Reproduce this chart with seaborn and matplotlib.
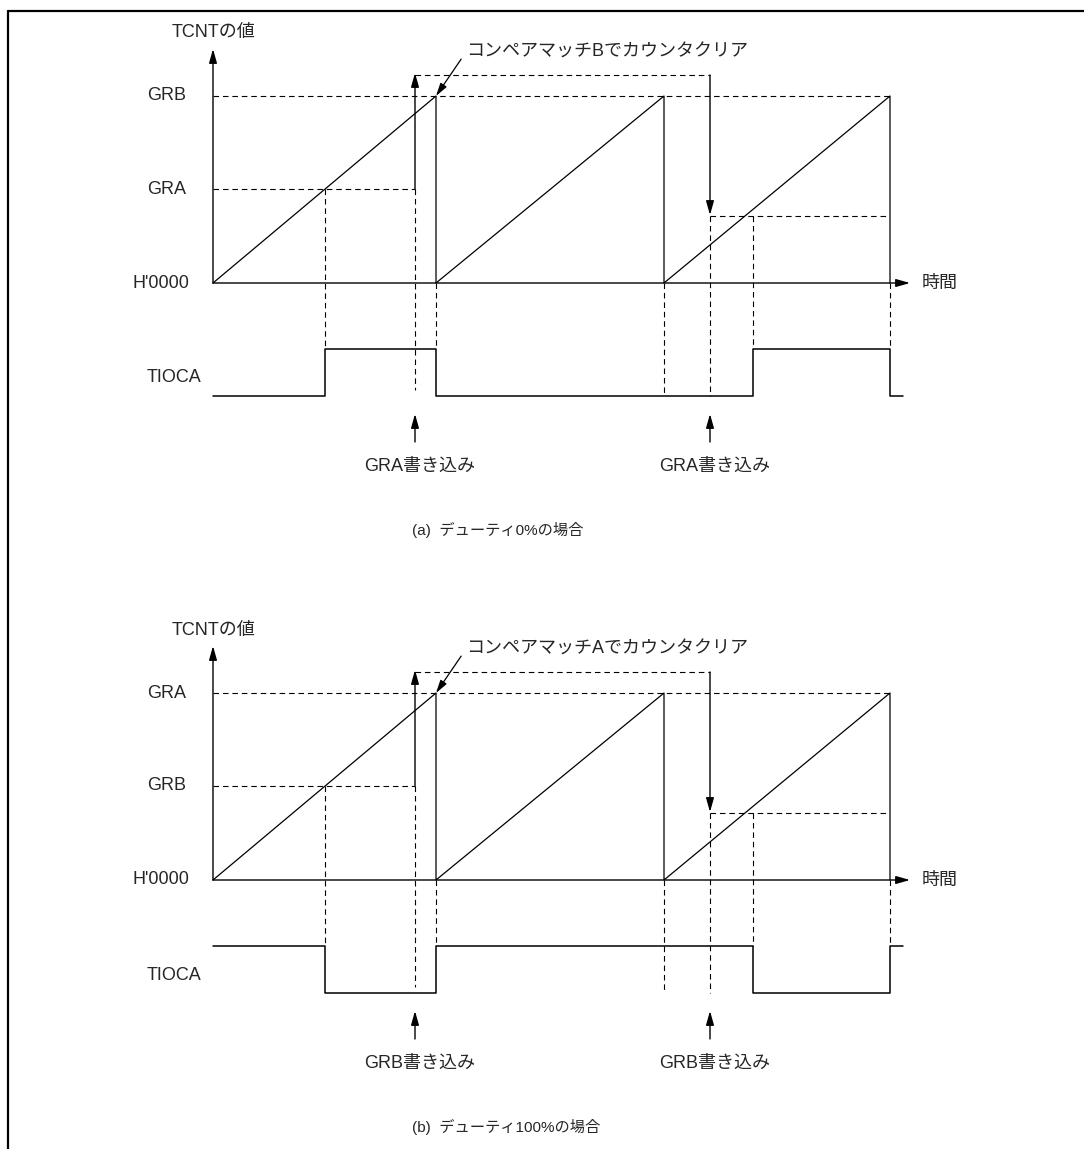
import matplotlib
matplotlib.use("Agg")
import matplotlib.pyplot as plt
from matplotlib.lines import Line2D
import numpy as np
import pandas as pd
import seaborn as sns

# ---------------- data (time / counter units) ----------------
clear_t = [0, 223, 451, 677]          # counter clear instants (ramp boundaries)
write_t = [202, 497]                  # register write instants
match_t = [112, 540]                  # duty-register compare matches
reg_top = 187                         # cycle register level
reg_old = 94                          # duty register before write
reg_new = 67                          # duty register after write
reg_pending = 208                     # level of pending-write path
tioca_hi = -66
tioca_lo = -113
tioca_end = 690
axis_x_end = 697
axis_y_end = 234

guide_x = [112, 202, 223, 451, 497, 540, 677]
guide_top = [94, 94, 0, 0, 67, 67, 0]
guide_bot = [-66, -107, -66, -113, -113, -66, -66]

hguide_y = [94, 187, 208, 67]
hguide_x0 = [0, 0, 202, 497]
hguide_x1 = [202, 677, 497, 674]

top_reg_labels = ["GRB", "GRA"]
duty_reg_labels = ["GRA", "GRB"]
clear_notes = ["コンペアマッチBでカウンタクリア", "コンペアマッチAでカウンタクリア"]
write_notes = ["GRA書き込み", "GRB書き込み"]
captions = ["(a)  デューティ0%の場合", "(b)  デューティ100%の場合"]
tioca_start_high = [False, True]

# ---------------- style ----------------
sns.set_theme(style="white")
plt.rcParams["font.family"] = ["Liberation Sans", "Noto Sans CJK JP", "DejaVu Sans"]
FS = 13

W, H = 1084, 1149
fig = plt.figure(figsize=(W / 100, H / 100), dpi=100)
fig.patch.set_facecolor("white")

# frame (left + top)
fig.add_artist(Line2D([7.5 / W, 7.5 / W], [0, 1 - 11 / H], color="black", lw=1.6,
                      transform=fig.transFigure))
fig.add_artist(Line2D([7.5 / W, 1], [1 - 11 / H, 1 - 11 / H], color="black", lw=1.6,
                      transform=fig.transFigure))

DASH = (0, (5, 3.5))


def arrow(ax, tail, tip, lw=1.0):
    ax.annotate("", xy=tip, xytext=tail,
                arrowprops=dict(arrowstyle="-|>,head_length=0.6,head_width=0.17",
                                mutation_scale=14, lw=lw, color="black",
                                shrinkA=0, shrinkB=0))


panel_specs = [
    # (py_top, py_bottom, baseline_py)
    (0, 575, 283),
    (575, H, 880),
]

for p, (py0, py1, base) in enumerate(panel_specs):
    ax = fig.add_axes([0, 1 - py1 / H, 1, (py1 - py0) / H])
    ax.set_xlim(-213, W - 213)
    ax.set_ylim(base - py1, base - py0)
    ax.axis("off")

    # counter sawtooth
    ct, cv = [], []
    for i in range(len(clear_t) - 1):
        ct += [clear_t[i], clear_t[i + 1], clear_t[i + 1]]
        cv += [0, reg_top, 0]
    df_cnt = pd.DataFrame({"t": ct, "v": cv})
    sns.lineplot(data=df_cnt, x="t", y="v", sort=False, estimator=None, ax=ax,
                 color="black", lw=0.9)

    # TIOCA waveform (set on duty match, cleared on cycle match)
    edges = sorted([(match_t[0], True), (clear_t[1], False),
                    (match_t[1], True), (clear_t[3], False)])
    tt = [0]
    st = [False]
    cur = False
    for t, s in edges:
        tt += [t, t]
        st += [cur, s]
        cur = s
    tt.append(tioca_end)
    st.append(cur)
    if tioca_start_high[p]:
        st = [not s for s in st]
    tv = [tioca_hi if s else tioca_lo for s in st]
    df_io = pd.DataFrame({"t": tt, "v": tv})
    sns.lineplot(data=df_io, x="t", y="v", sort=False, estimator=None, ax=ax,
                 color="black", lw=1.1)

    # axes arrows
    arrow(ax, (0, 0), (0, axis_y_end), lw=1.0)
    arrow(ax, (0, 0), (axis_x_end, 0), lw=1.0)

    # dashed guides
    for x, y0, y1 in zip(guide_x, guide_top, guide_bot):
        ax.plot([x, x], [y0, y1], color="black", lw=0.8, ls=DASH)
    for y, x0, x1 in zip(hguide_y, hguide_x0, hguide_x1):
        ax.plot([x0, x1], [y, y], color="black", lw=0.8, ls=DASH)

    # register write paths
    arrow(ax, (write_t[0], reg_old), (write_t[0], reg_pending + 2), lw=1.0)
    arrow(ax, (write_t[1], reg_pending), (write_t[1], reg_new + 1), lw=1.0)

    # write-event arrows below
    for x in write_t:
        arrow(ax, (x, -159), (x, -131), lw=1.0)
        ax.text(x + 5, -183, write_notes[p], ha="center", va="center", fontsize=FS)

    # leader annotation
    ax.annotate(clear_notes[p], xy=(clear_t[1], reg_top), xytext=(253, 231),
                ha="left", va="center", fontsize=FS,
                arrowprops=dict(arrowstyle="-|>,head_length=0.6,head_width=0.17",
                                mutation_scale=13, lw=0.9, color="black",
                                shrinkA=2, shrinkB=0,
                                relpos=(0, 0.5)))

    # labels
    ax.text(0, 250, "TCNTの値", ha="center", va="center", fontsize=FS)
    ax.text(-27, reg_top, top_reg_labels[p], ha="right", va="center", fontsize=FS)
    ax.text(-27, reg_old, duty_reg_labels[p], ha="right", va="center", fontsize=FS)
    ax.text(-24, 0, "H'0000", ha="right", va="center", fontsize=FS)
    ax.text(-12, -95, "TIOCA", ha="right", va="center", fontsize=FS)
    ax.text(709, 0, "時間", ha="left", va="center", fontsize=FS)
    ax.text(199, -247, captions[p], ha="left", va="center", fontsize=11)

fig.savefig("out.png", dpi=100)
